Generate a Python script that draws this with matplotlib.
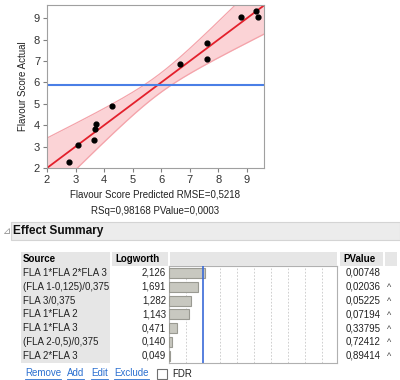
import matplotlib
matplotlib.use("Agg")
import matplotlib.pyplot as plt
import numpy as np
from matplotlib.patches import Rectangle

# leverage plot data (predicted vs actual)
predicted = [2.78, 3.10, 3.66, 3.67, 3.73, 4.28, 6.65, 7.61, 7.61, 8.80, 9.32, 9.39]
actual = [2.26, 3.06, 3.32, 3.84, 4.05, 4.88, 6.88, 7.85, 7.10, 9.06, 9.34, 9.08]
mean_actual = 5.89
band_mid = 0.45    # half width of confidence band at the mean
band_edge = 1.40   # half width at x=2
axis_ticks = [2, 3, 4, 5, 6, 7, 8, 9]

# effect summary table
sources = ["FLA 1*FLA 2*FLA 3", "(FLA 1-0,125)/0,375", "FLA 3/0,375", "FLA 1*FLA 2",
           "FLA 1*FLA 3", "(FLA 2-0,5)/0,375", "FLA 2*FLA 3"]
logworth = [2.126, 1.691, 1.282, 1.143, 0.471, 0.140, 0.049]
pvalues = ["0,00748", "0,02036", "0,05225", "0,07194", "0,33795", "0,72412", "0,89414"]
carets = ["", "^", "^", "^", "^", "^", "^"]

W, H = 400, 380
FONT = "Liberation Sans"
FS = 7.0
plt.rcParams['font.family'] = [FONT, 'DejaVu Sans']


def fx(x):
    return x / W


def fy(y):
    return 1 - y / H


fig = plt.figure(figsize=(4, 3.8), dpi=100)
fig.patch.set_facecolor("white")

# ---- leverage plot ----
ax = fig.add_axes([fx(47), fy(168), 217 / W, 163 / H])
xs = np.linspace(2, 9.6, 200)
b = np.sqrt(band_edge ** 2 - band_mid ** 2) / (mean_actual - 2)
hw = np.sqrt(band_mid ** 2 + (b * (xs - mean_actual)) ** 2)
ax.fill_between(xs, xs - hw, xs + hw, color="#fbd3d6", lw=0)
ax.plot(xs, xs - hw, color="#f4a3aa", lw=0.9)
ax.plot(xs, xs + hw, color="#f4a3aa", lw=0.9)
ax.plot(xs, xs, color="#e3202c", lw=1.3)
ax.axhline(mean_actual, color="#4a7fe6", lw=1.5)
ax.scatter(predicted, actual, s=12, color="black", zorder=5)
ax.set_xlim(2, 9.6)
ax.set_ylim(2, 9.62)
ax.set_xticks(axis_ticks)
ax.set_yticks(axis_ticks)
ax.tick_params(labelsize=FS + 1.0, length=3, color="#808080", pad=2, labelcolor="#333333")
for s in ax.spines.values():
    s.set_color("#a0a0a0")
    s.set_linewidth(0.8)
ax.set_ylabel("Flavour Score Actual", fontsize=FS, color="#222222", labelpad=4)

fig.text(fx(155.5), fy(194.5), "Flavour Score Predicted RMSE=0,5218", fontsize=FS,
         ha="center", va="center", color="#222222")
fig.text(fx(155.5), fy(211), "RSq=0,98168 PValue=0,0003", fontsize=FS,
         ha="center", va="center", color="#222222")

# ---- Effect Summary outline header ----
fig.patches.append(Rectangle((fx(11), fy(239.5)), 1 - fx(11), (239.5 - 221.5) / H,
                             transform=fig.transFigure, facecolor="#ececec",
                             edgecolor="#d4d4d4", lw=0.8))
fig.text(fx(3), fy(231), "\u22bf", fontsize=FS, color="#909090", va="center",
         family=["DejaVu Sans"])
fig.text(fx(13), fy(231), "Effect Summary", fontsize=FS + 1.6, fontweight="bold",
         va="center", color="#111111")

# header cells
hdr = [(21, 110), (112, 168), (170, 337), (340, 383), (385, 397)]
for x0, x1 in hdr:
    fig.patches.append(Rectangle((fx(x0), fy(265.5)), (x1 - x0) / W, 13.5 / H,
                                 transform=fig.transFigure, facecolor="#e6e6e6", lw=0))
fig.text(fx(23), fy(259), "Source", fontsize=FS, fontweight="bold", va="center")
fig.text(fx(115), fy(259), "Logworth", fontsize=FS, fontweight="bold", va="center")
fig.text(fx(343), fy(259), "PValue", fontsize=FS, fontweight="bold", va="center")

# source column background
fig.patches.append(Rectangle((fx(21), fy(363)), 89 / W, 97 / H,
                             transform=fig.transFigure, facecolor="#e6e6e6", lw=0))

row_h = (362.7 - 266) / len(sources)
for i, src in enumerate(sources):
    yc = 266 + row_h * (i + 0.5)
    fig.text(fx(23), fy(yc), src, fontsize=FS, va="center", color="#222222")
    fig.text(fx(166), fy(yc), f"{logworth[i]:.3f}".replace(".", ","), fontsize=FS,
             va="center", ha="right", color="#222222")
    fig.text(fx(381), fy(yc), pvalues[i], fontsize=FS, va="center", ha="right",
             color="#222222")
    if carets[i]:
        fig.text(fx(387), fy(yc + 1), carets[i], fontsize=FS - 0.5, va="center",
                 color="#444444")

# logworth bars
bx = fig.add_axes([fx(169.3), fy(362.7), 167.4 / W, 96.7 / H])
rows = np.arange(len(sources)) + 0.5
bx.barh(rows, logworth, height=0.72, color="#c8c8c0", edgecolor="#9a9a92", lw=0.8, zorder=3)
for v in range(1, 10):
    if v == 2:
        bx.axvline(v, color="#3a6ad8", lw=1.2, zorder=4)
    else:
        bx.axvline(v, color="#c8c8c8", lw=0.6, ls=(0, (2, 2)), zorder=1)
bx.set_xlim(0, 9.84)
bx.set_ylim(len(sources), 0)
bx.set_xticks([])
bx.set_yticks([])
for s in bx.spines.values():
    s.set_color("#b0b0b0")
    s.set_linewidth(0.8)

# links row
links = [("Remove", 25), ("Add", 67), ("Edit", 91), ("Exclude", 114)]
fig.canvas.draw()
renderer = fig.canvas.get_renderer()
for label, x0 in links:
    t = fig.text(fx(x0), fy(373), label, fontsize=FS, va="center", color="#2a6fd0")
    bb = t.get_window_extent(renderer)
    fig.lines.append(plt.Line2D([bb.x0 / W, bb.x1 / W], [fy(378.5), fy(378.5)],
                                transform=fig.transFigure, color="#2a6fd0", lw=0.6))
fig.patches.append(Rectangle((fx(157), fy(379)), 10 / W, 10 / H, transform=fig.transFigure,
                             facecolor="white", edgecolor="#707070", lw=0.8))
fig.text(fx(172), fy(374), "FDR", fontsize=FS, va="center", color="#222222")

fig.savefig("out.png", dpi=100)
